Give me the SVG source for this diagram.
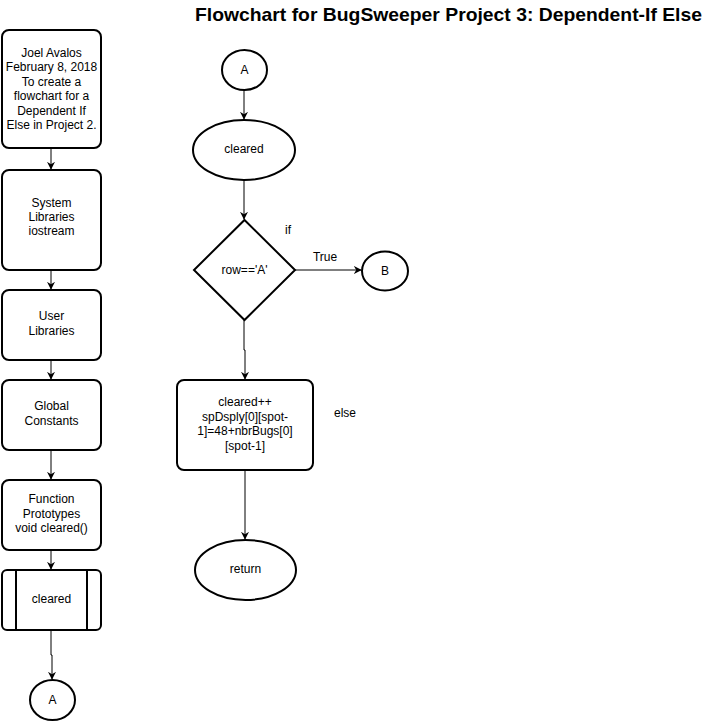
<svg xmlns="http://www.w3.org/2000/svg" width="712" height="722" viewBox="0 0 712 722">
<style>
.s{fill:#fff;stroke:#000;stroke-width:2}
.c{fill:none;stroke:#000;stroke-width:1}
text{font-family:"Liberation Sans",Arial,sans-serif;font-size:12px;fill:#000;text-anchor:middle}
.t{font-weight:bold;font-size:19px;text-anchor:start}
.l{text-anchor:start}
</style>
<defs>
<marker id="ar" viewBox="0 0 10 10" refX="9" refY="5" markerWidth="8" markerHeight="8" markerUnits="userSpaceOnUse" orient="auto">
<path d="M0,0 L10,5 L0,10 L3,5 Z" fill="#000"/>
</marker>
</defs>
<rect width="712" height="722" fill="#fff"/>
<text class="t" x="195" y="21" textLength="507" lengthAdjust="spacingAndGlyphs">Flowchart for BugSweeper Project 3: Dependent-If Else</text>
<g id="connectors">
<path class="c" d="M51,148 V169" marker-end="url(#ar)"/>
<path class="c" d="M51,270 V289" marker-end="url(#ar)"/>
<path class="c" d="M51,360 V379" marker-end="url(#ar)"/>
<path class="c" d="M51,450 V479" marker-end="url(#ar)"/>
<path class="c" d="M51,550 V569" marker-end="url(#ar)"/>
<path class="c" d="M51,630 V655 H52 V679" marker-end="url(#ar)"/>
<path class="c" d="M244,90 V119" marker-end="url(#ar)"/>
<path class="c" d="M244,180 V219" marker-end="url(#ar)"/>
<path class="c" d="M295,270 H361" marker-end="url(#ar)"/>
<path class="c" d="M244,320 V350 H245 V379" marker-end="url(#ar)"/>
<path class="c" d="M245,470 V539" marker-end="url(#ar)"/>
</g>
<g id="n-header">
<rect class="s" x="2" y="30" width="99" height="118" rx="7"/>
<text x="51.5" y="57">Joel Avalos</text>
<text x="51.5" y="71.4">February 8, 2018</text>
<text x="51.5" y="85.8">To create a</text>
<text x="51.5" y="100.2">flowchart for a</text>
<text x="51.5" y="114.6">Dependent If</text>
<text x="51.5" y="129">Else in Project 2.</text>
</g>
<g id="n-syslib">
<rect class="s" x="2" y="170" width="99" height="100" rx="7"/>
<text x="51.5" y="207">System</text>
<text x="51.5" y="221">Libraries</text>
<text x="51.5" y="235">iostream</text>
</g>
<g id="n-userlib">
<rect class="s" x="2" y="290" width="99" height="70" rx="7"/>
<text x="51.5" y="320">User</text>
<text x="51.5" y="335">Libraries</text>
</g>
<g id="n-global">
<rect class="s" x="2" y="380" width="99" height="70" rx="7"/>
<text x="51.5" y="410">Global</text>
<text x="51.5" y="425">Constants</text>
</g>
<g id="n-proto">
<rect class="s" x="2" y="480" width="99" height="70" rx="7"/>
<text x="51.5" y="503">Function</text>
<text x="51.5" y="518">Prototypes</text>
<text x="51.5" y="532">void cleared()</text>
</g>
<g id="n-sub">
<rect class="s" x="2" y="570" width="99" height="60" rx="5"/>
<path class="s" d="M16,570 V630 M87,570 V630" fill="none"/>
<text x="51.5" y="603">cleared</text>
</g>
<g id="n-A1">
<ellipse class="s" cx="52.5" cy="700" rx="22.5" ry="20"/>
<text x="52.5" y="704">A</text>
</g>
<g id="n-A2">
<ellipse class="s" cx="244.5" cy="70" rx="22.5" ry="20"/>
<text x="244.5" y="74">A</text>
</g>
<g id="n-cleared">
<ellipse class="s" cx="244" cy="150" rx="51" ry="30"/>
<text x="244" y="153">cleared</text>
</g>
<g id="n-decision">
<path class="s" d="M244.5,220 L295,270 L244.5,320 L194,270 Z"/>
<text x="244.5" y="274">row=='A'</text>
</g>
<g id="n-B">
<ellipse class="s" cx="385" cy="271" rx="23" ry="19.5"/>
<text x="385" y="275">B</text>
</g>
<g id="n-action">
<rect class="s" x="177" y="380" width="136" height="90" rx="7"/>
<text x="245" y="406">cleared++</text>
<text x="245" y="420.5">spDsply[0][spot-</text>
<text x="245" y="435">1]=48+nbrBugs[0]</text>
<text x="245" y="449.5">[spot-1]</text>
</g>
<g id="n-return">
<ellipse class="s" cx="245.5" cy="570" rx="50.5" ry="30"/>
<text x="245.5" y="573">return</text>
</g>
<g id="labels">
<text class="l" x="285" y="234">if</text>
<text x="325" y="261">True</text>
<text class="l" x="334" y="417">else</text>
</g>
</svg>
